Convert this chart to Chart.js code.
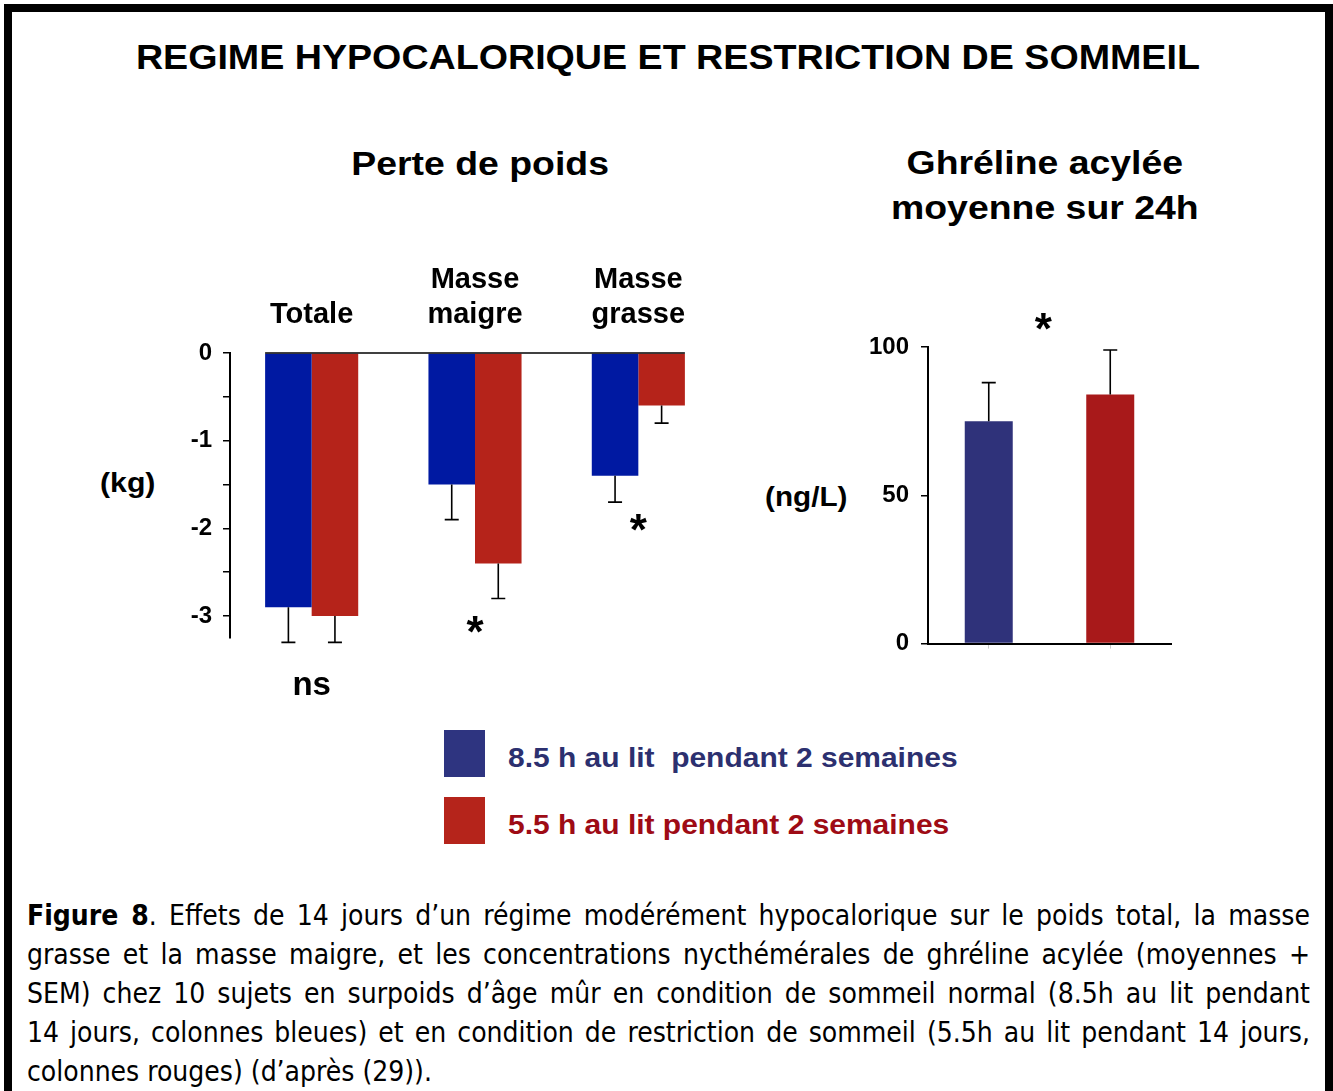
<!DOCTYPE html>
<html lang="fr">
<head>
<meta charset="utf-8">
<script src="https://cdn.jsdelivr.net/npm/chart.js@4.4.0/dist/chart.umd.min.js"></script>
<style>
  html, body { margin: 0; padding: 0; background: #fff; }
  body { width: 1333px; height: 1091px; position: relative; overflow: hidden; font-family: "Liberation Sans", Arial, sans-serif; }
  #frame { position: absolute; left: 4px; top: 4px; width: 1313px; height: 1200px; border: 8px solid #000; border-bottom: none; }
  .txt { position: absolute; font-weight: bold; color: #000; white-space: nowrap; line-height: 1; }
  .txt span { display: inline-block; }
  canvas { position: absolute; }
  .leg { position: absolute; left: 444px; height: 47px; }
  .leg .sw { position: absolute; left: 0; top: 0; width: 41px; height: 47px; }
  .leg .lb { position: absolute; left: 64px; top: 14px; font-size: 28px; font-weight: bold; white-space: nowrap; line-height: 1; transform: scaleX(1.07); transform-origin: left center; }
  #caption { position: absolute; left: 27px; top: 896px; width: 1283px; font-family: "Liberation Sans Narrow", "DejaVu Sans Condensed", "Noto Sans", sans-serif; font-size: 25px; line-height: 39px; color: #000; }
  #caption div { text-align: justify; text-align-last: justify; white-space: nowrap; }
  #caption div.last { text-align-last: left; }
</style>
</head>
<body>
<div id="frame"></div>

<div class="txt" style="left:0;width:1336px;text-align:center;top:39px;font-size:35px;"><span style="transform:scaleX(1.075)">REGIME HYPOCALORIQUE ET RESTRICTION DE SOMMEIL</span></div>
<div class="txt" style="left:280px;width:400px;text-align:center;top:146px;font-size:34px;"><span style="transform:scaleX(1.1)">Perte de poids</span></div>
<div class="txt" style="left:845px;width:400px;text-align:center;top:140px;font-size:34px;line-height:45px;"><span style="transform:scaleX(1.1)">Ghréline acylée<br>moyenne sur 24h</span></div>
<div class="txt" style="left:100px;top:469px;font-size:28px;"><span style="transform:scaleX(1.08);transform-origin:left center">(kg)</span></div>
<div class="txt" style="left:765px;top:483px;font-size:28px;"><span style="transform:scaleX(1.06);transform-origin:left center">(ng/L)</span></div>

<canvas id="poidsChart" width="730" height="470" style="left:0;top:240px;"></canvas>
<canvas id="ghrelineChart" width="430" height="380" style="left:760px;top:290px;"></canvas>

<div id="legend"></div>

<div id="caption">
  <div><b>Figure 8</b>. Effets de 14 jours d’un régime modérément hypocalorique sur le poids total, la masse</div>
  <div>grasse et la masse maigre, et les concentrations nycthémérales de ghréline acylée (moyennes +</div>
  <div>SEM) chez 10 sujets en surpoids d’âge mûr en condition de sommeil normal (8.5h au lit pendant</div>
  <div>14 jours, colonnes bleues) et en condition de restriction de sommeil (5.5h au lit pendant 14 jours,</div>
  <div class="last">colonnes rouges) (d’après (29)).</div>
</div>

<script>
// Series names (legend)
const seriesNames = ['8.5 h au lit\u00a0 pendant 2 semaines', '5.5 h au lit pendant 2 semaines'];

// Perte de poids (kg)
const poidsCategories = [['Totale'], ['Masse', 'maigre'], ['Masse', 'grasse']];
const poidsNormal = [-2.9, -1.5, -1.4];
const poidsNormalSem = [0.4, 0.4, 0.3];
const poidsRestrict = [-3.0, -2.4, -0.6];
const poidsRestrictSem = [0.3, 0.4, 0.2];
const poidsTicks = [0, -0.5, -1, -1.5, -2, -2.5, -3];
const poidsSigLabels = ['ns', '*', '*'];
const poidsSigY = [-3.8, -3.15, -1.98];

// Ghréline acylée moyenne sur 24h (ng/L)
const ghrelineCategories = ['8.5 h', '5.5 h'];
const ghrelineValues = [75, 84];
const ghrelineSem = [13, 15];
const ghrelineTicks = [0, 50, 100];
const ghrelineSigLabel = '*';
const ghrelineSigY = 107;

const FONT = '"Liberation Sans", Arial, sans-serif';

// draws one-sided SEM bars (away from zero)
const errorBarPlugin = {
    id: 'errorBars',
    afterDatasetsDraw(chart) {
        const ctx = chart.ctx;
        const yScale = chart.scales.y;
        ctx.save();
        ctx.strokeStyle = '#000';
        ctx.lineWidth = 1.6;
        chart.data.datasets.forEach((ds, i) => {
            const meta = chart.getDatasetMeta(i);
            meta.data.forEach((bar, j) => {
                const v = ds.data[j];
                const e = ds.sem[j];
                const y0 = yScale.getPixelForValue(v);
                const y1 = yScale.getPixelForValue(v + Math.sign(v) * e);
                ctx.beginPath();
                ctx.moveTo(bar.x, y0);
                ctx.lineTo(bar.x, y1);
                ctx.moveTo(bar.x - 7, y1);
                ctx.lineTo(bar.x + 7, y1);
                ctx.stroke();
            });
        });
        ctx.restore();
    }
};

// significance marks (ns, *)
const sigPlugin = {
    id: 'sigMarks',
    afterDraw(chart, args, opts) {
        if (!opts.labels) return;
        const ctx = chart.ctx;
        ctx.save();
        ctx.fillStyle = '#000';
        ctx.textAlign = 'center';
        ctx.textBaseline = 'middle';
        opts.labels.forEach((lab, k) => {
            const x = chart.scales.x.getPixelForValue(opts.xs[k]);
            const y = chart.scales.y.getPixelForValue(opts.ys[k]);
            if (lab === '*') {
                ctx.font = 'bold 44px ' + FONT;
                ctx.fillText(lab, x, y + 6);
            } else {
                ctx.font = 'bold 33px ' + FONT;
                ctx.fillText(lab, x, y);
            }
        });
        ctx.restore();
    }
};

// zero line spanning the bar groups only
const zeroLinePlugin = {
    id: 'zeroLine',
    afterDatasetsDraw(chart, args, opts) {
        if (!opts.show) return;
        const first = chart.getDatasetMeta(0).data[0];
        const lastMeta = chart.getDatasetMeta(chart.data.datasets.length - 1);
        const last = lastMeta.data[lastMeta.data.length - 1];
        const y = chart.scales.y.getPixelForValue(0);
        const ctx = chart.ctx;
        ctx.save();
        ctx.strokeStyle = '#000';
        ctx.lineWidth = 1.6;
        ctx.beginPath();
        ctx.moveTo(first.x - first.width / 2, y);
        ctx.lineTo(last.x + last.width / 2, y);
        ctx.stroke();
        ctx.restore();
    }
};

Chart.defaults.font.family = FONT;
Chart.defaults.color = '#000';

function initPoidsChart() {
    const ctx = document.getElementById('poidsChart').getContext('2d');
    return new Chart(ctx, {
        type: 'bar',
        data: {
            labels: poidsCategories,
            datasets: [
                { label: seriesNames[0], data: poidsNormal, sem: poidsNormalSem, backgroundColor: '#0019A2' },
                { label: seriesNames[1], data: poidsRestrict, sem: poidsRestrictSem, backgroundColor: '#B5231A' }
            ]
        },
        options: {
            responsive: false,
            animation: false,
            layout: { padding: { top: 0, right: 10, bottom: 72, left: 0 } },
            categoryPercentage: 0.57,
            barPercentage: 1.0,
            plugins: {
                legend: { display: false },
                tooltip: { enabled: false },
                zeroLine: { show: true },
                sigMarks: { labels: poidsSigLabels, xs: [0, 1, 2], ys: poidsSigY }
            },
            scales: {
                x: {
                    position: 'top',
                    offset: true,
                    grid: { display: false, drawTicks: false },
                    border: { display: false },
                    ticks: { font: { size: 29, weight: 'bold', lineHeight: 1.22 }, padding: 20, maxRotation: 0 },
                    afterFit(scale) { scale.height = 113; }
                },
                y: {
                    min: -3.25,
                    max: 0,
                    afterBuildTicks(scale) { scale.ticks = poidsTicks.map(v => ({ value: v })); },
                    afterFit(scale) { scale.width = 230; },
                    grid: { drawOnChartArea: false, drawTicks: true, tickLength: 7, color: '#000', lineWidth: 1.5 },
                    border: { display: true, color: '#000', width: 2 },
                    ticks: {
                        font: { size: 24, weight: 'bold' },
                        padding: 11,
                        callback: v => Number.isInteger(v) ? String(v) : ''
                    }
                }
            }
        },
        plugins: [errorBarPlugin, zeroLinePlugin, sigPlugin]
    });
}

function initGhrelineChart() {
    const ctx = document.getElementById('ghrelineChart').getContext('2d');
    return new Chart(ctx, {
        type: 'bar',
        data: {
            labels: ghrelineCategories,
            datasets: [{
                label: 'Ghréline acylée',
                data: ghrelineValues,
                sem: ghrelineSem,
                backgroundColor: ['#2F327A', '#A8191A']
            }]
        },
        options: {
            responsive: false,
            animation: false,
            layout: { padding: { top: 57, right: 19, bottom: 10, left: 0 } },
            categoryPercentage: 0.395,
            barPercentage: 1.0,
            plugins: {
                legend: { display: false },
                tooltip: { enabled: false },
                sigMarks: { labels: [ghrelineSigLabel], xs: [0.45], ys: [ghrelineSigY] }
            },
            scales: {
                x: {
                    offset: true,
                    grid: { offset: false, drawOnChartArea: false, drawTicks: true, tickLength: 5, color: '#c8c8c8' },
                    border: { display: true, color: '#000', width: 2 },
                    ticks: { display: false },
                    afterFit(scale) { scale.height = 16; }
                },
                y: {
                    min: 0,
                    max: 100,
                    afterBuildTicks(scale) { scale.ticks = ghrelineTicks.map(v => ({ value: v })); },
                    afterFit(scale) { scale.width = 168; },
                    grid: { drawOnChartArea: false, drawTicks: true, tickLength: 7, color: '#000', lineWidth: 1.5 },
                    border: { display: true, color: '#000', width: 2 },
                    ticks: { font: { size: 24, weight: 'bold' }, padding: 12 }
                }
            }
        },
        plugins: [errorBarPlugin, sigPlugin]
    });
}

function buildLegend() {
    const swatches = ['#2E3480', '#B5241B'];
    const textColors = ['#2C306F', '#9E0B15'];
    const tops = [730, 797];
    const holder = document.getElementById('legend');
    seriesNames.forEach((name, i) => {
        const item = document.createElement('div');
        item.className = 'leg';
        item.style.top = tops[i] + 'px';
        item.innerHTML = `<span class="sw" style="background:${swatches[i]}"></span>` +
            `<span class="lb" style="color:${textColors[i]}">${name}</span>`;
        holder.appendChild(item);
    });
}

// pick one caption font size so the widest line just fits the box
function fitCaption() {
    const box = document.getElementById('caption');
    const lines = Array.from(box.children);
    let widest = 0;
    lines.forEach(line => {
        const probe = document.createElement('span');
        probe.innerHTML = line.innerHTML;
        probe.style.whiteSpace = 'nowrap';
        line.parentNode.appendChild(probe);
        widest = Math.max(widest, probe.getBoundingClientRect().width);
        probe.remove();
    });
    const size = Math.min(28, 25 * 1275 / widest);
    box.style.fontSize = size.toFixed(2) + 'px';
}

initPoidsChart();
initGhrelineChart();
buildLegend();
fitCaption();
</script>
</body>
</html>
